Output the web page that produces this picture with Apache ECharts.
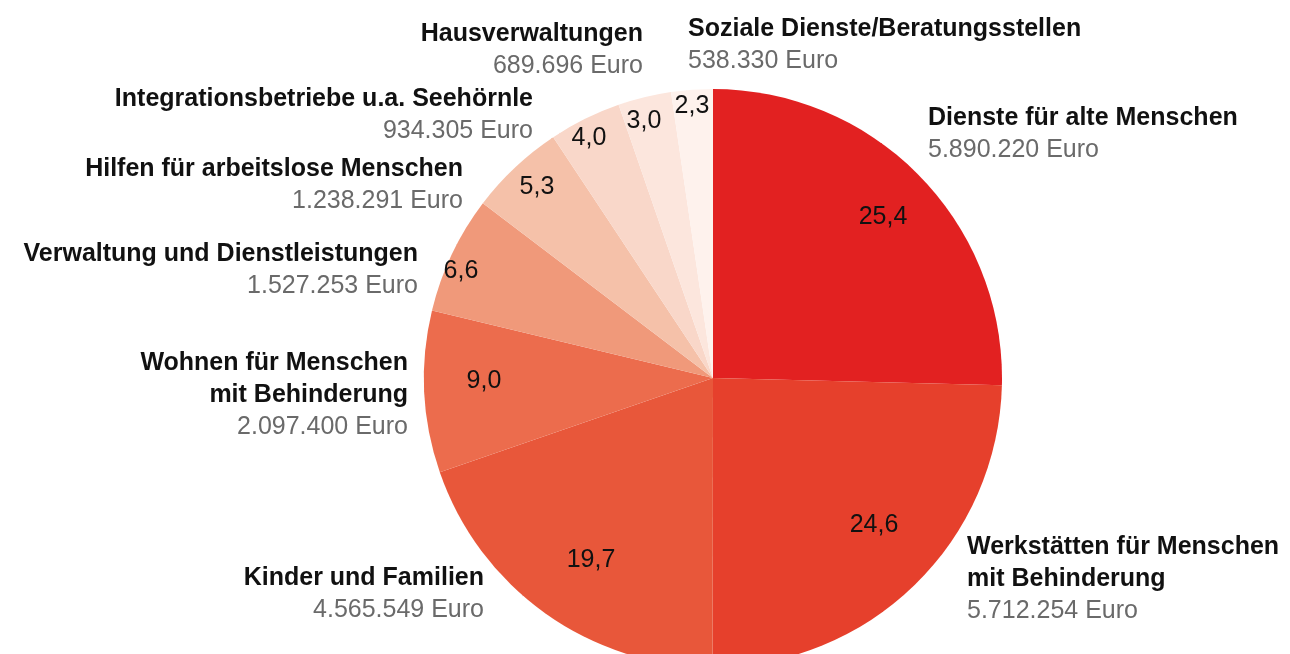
<!DOCTYPE html>
<html>
<head>
<meta charset="utf-8">
<script src="https://cdn.jsdelivr.net/npm/echarts@6/dist/echarts.min.js"></script>
<style>
  html, body { margin: 0; padding: 0; background: #fff; }
  #chart { width: 1290px; height: 654px; }
</style>
</head>
<body>
<div id="chart"></div>
<script>
// Ausgaben nach Bereichen (Euro)
let bereiche = [
  "Dienste für alte Menschen",
  "Werkstätten für Menschen\nmit Behinderung",
  "Kinder und Familien",
  "Wohnen für Menschen\nmit Behinderung",
  "Verwaltung und Dienstleistungen",
  "Hilfen für arbeitslose Menschen",
  "Integrationsbetriebe u.a. Seehörnle",
  "Hausverwaltungen",
  "Soziale Dienste/Beratungsstellen"
]
let betraege = [5890220, 5712254, 4565549, 2097400, 1527253, 1238291, 934305, 689696, 538330]
let farben = ["#e22121", "#e6402c", "#e8573a", "#ec6c4d", "#f0997a", "#f5c1a9", "#f9d7c9", "#fce6dd", "#fef2ed"]

// label placement (outside: anchor x, top y, align) and inside percent labels (centre)
let aussen = [
  [928, 102, "left"], [967, 531, "left"], [484, 562, "right"],
  [408, 347, "right"], [418, 238, "right"], [463, 153, "right"],
  [533, 83, "right"], [643, 18, "right"], [688, 13, "left"]
]
let innen = [
  [883, 217], [874, 525], [591, 560], [484, 381], [461, 271],
  [537, 187], [589, 138], [644, 121], [692, 106]
]

function euro(v) {
  return String(v).replace(/\B(?=(\d{3})+(?!\d))/g, ".") + " Euro"
}

let daten = bereiche.map((name, i) => ({
  name: name,
  value: betraege[i],
  itemStyle: { color: farben[i] }
}))

let myChart = echarts.init(document.getElementById("chart"))
myChart.setOption({
  animation: false,
  textStyle: { fontFamily: "Liberation Sans" },
  series: [
    {
      type: "pie",
      center: [713, 378],
      radius: 289,
      startAngle: 90,
      clockwise: true,
      data: daten,
      itemStyle: { borderWidth: 0 },
      emphasis: { disabled: true },
      label: {
        show: true,
        position: "inside",
        color: "#111",
        fontSize: 25,
        fontFamily: "Liberation Sans",
        formatter: (p) => p.percent.toFixed(1).replace(".", ",")
      },
      labelLayout: (p) => ({
        x: innen[p.dataIndex][0],
        y: innen[p.dataIndex][1],
        align: "center",
        verticalAlign: "middle"
      })
    },
    {
      type: "pie",
      center: [713, 378],
      radius: 289,
      startAngle: 90,
      clockwise: true,
      silent: true,
      data: bereiche.map((name, i) => ({ name: name, value: betraege[i] })),
      itemStyle: { color: "rgba(0,0,0,0)", borderWidth: 0 },
      labelLine: { show: false },
      label: {
        show: true,
        position: "outside",
        overflow: "none",
        edgeDistance: 0,
        formatter: (p) => {
          let zeilen = p.name.split("\n").map((z) => "{n|" + z + "}")
          return zeilen.join("\n") + "\n{v|" + euro(p.value) + "}"
        },
        rich: {
          n: { fontSize: 25, fontWeight: "bold", color: "#111", lineHeight: 32, fontFamily: "Liberation Sans" },
          v: { fontSize: 25, color: "#6a6a6a", lineHeight: 32, fontFamily: "Liberation Sans" }
        }
      },
      labelLayout: (p) => ({
        x: aussen[p.dataIndex][0],
        y: aussen[p.dataIndex][1],
        align: aussen[p.dataIndex][2],
        verticalAlign: "top"
      })
    }
  ]
})
</script>
</body>
</html>
